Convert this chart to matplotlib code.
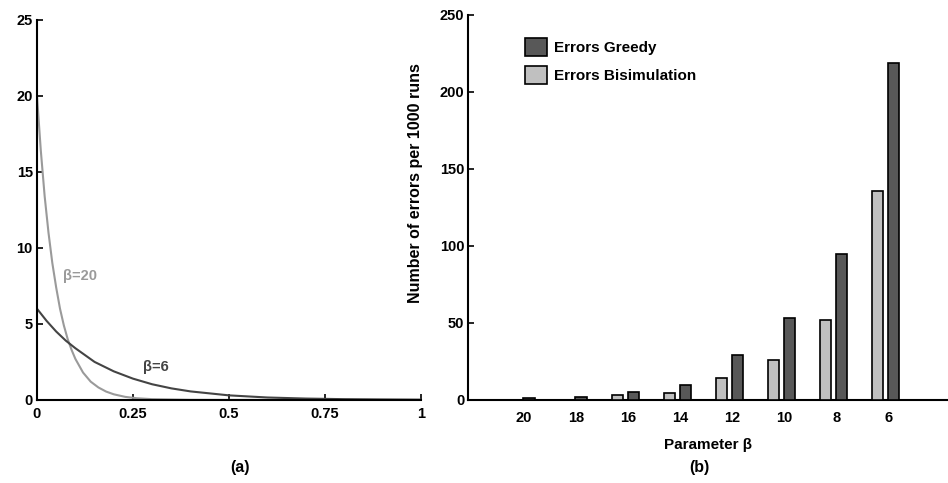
import matplotlib.pyplot as plt
import numpy as np

plt.rcParams["font.family"] = ["Liberation Sans", "DejaVu Sans"]
plt.rcParams["font.weight"] = "bold"

# (a) densities
x_b20 = [0, 0.01, 0.02, 0.03, 0.04, 0.05, 0.06, 0.07, 0.08, 0.09, 0.10, 0.12,
         0.14, 0.16, 0.18, 0.20, 0.23, 0.26, 0.30, 0.40, 0.50, 1.0]
y_b20 = [20, 16.4, 13.4, 11.0, 9.0, 7.4, 6.0, 4.9, 4.0, 3.3, 2.7, 1.8,
         1.2, 0.82, 0.55, 0.37, 0.20, 0.11, 0.05, 0.007, 0.001, 0.0]
x_b6 = [0, 0.025, 0.05, 0.075, 0.1, 0.125, 0.15, 0.2, 0.25, 0.3, 0.35, 0.4,
        0.5, 0.6, 0.7, 0.8, 0.9, 1.0]
y_b6 = [6.0, 5.2, 4.5, 3.9, 3.4, 2.95, 2.5, 1.88, 1.40, 1.03, 0.76, 0.56,
        0.30, 0.16, 0.09, 0.05, 0.03, 0.015]

# (b) errors per 1000 runs
betas = ["20", "18", "16", "14", "12", "10", "8", "6"]
err_bisim = [0, 0, 3.5, 4.3, 14.5, 26, 52, 136]
err_greedy = [1.5, 2, 5, 10, 29, 53, 95, 219]

fig = plt.figure(figsize=(9.48, 4.83), dpi=100)
ax1 = fig.add_axes([0.039, 0.172, 0.405, 0.787])
ax2 = fig.add_axes([0.494, 0.172, 0.506, 0.797])

for ax in (ax1, ax2):
    ax.spines["top"].set_visible(False)
    ax.spines["right"].set_visible(False)
    ax.spines["left"].set_linewidth(1.5)
    ax.spines["bottom"].set_linewidth(1.5)
    ax.tick_params(direction="in", length=4, width=1.2, labelsize=10.5, pad=3)

# left panel
ax1.plot(x_b20, y_b20, color="#9a9a9a", lw=1.5)
ax1.plot(x_b6, y_b6, color="#444444", lw=1.5)
ax1.set_xlim(0, 1)
ax1.set_ylim(0, 25)
ax1.set_xticks([0, 0.25, 0.5, 0.75, 1])
ax1.set_xticklabels(["0", "0.25", "0.5", "0.75", "1"], fontweight="bold")
ax1.set_yticks([0, 5, 10, 15, 20, 25])
ax1.set_yticklabels(["0", "5", "10", "15", "20", "25"], fontweight="bold")
ax1.tick_params(axis="x", pad=5)
ax1.text(0.068, 7.9, "β=20", color="#9a9a9a", fontsize=10.5, fontweight="bold")
ax1.text(0.275, 1.9, "β=6", color="#444444", fontsize=10.5, fontweight="bold")
fig.text(0.253, 0.022, "(a)", ha="center", fontsize=11.5, fontweight="bold")

# right panel
pos = np.arange(len(betas))
ax2.bar(pos - 0.15, err_bisim, width=0.22, color="#c0c0c0", edgecolor="black",
        lw=1.2, label="Errors Bisimulation", zorder=3)
ax2.bar(pos + 0.15, err_greedy, width=0.22, color="#585858", edgecolor="black",
        lw=1.2, label="Errors Greedy", zorder=3)
ax2.set_xlim(-1.02, 8.2)
ax2.set_ylim(0, 250)
ax2.set_xticks(pos + 0.05)
ax2.set_xticklabels(betas, fontweight="bold")
ax2.tick_params(axis="x", length=0, pad=8)
ax2.set_yticks([0, 50, 100, 150, 200, 250])
ax2.set_yticklabels(["0", "50", "100", "150", "200", "250"], fontweight="bold")
ax2.set_xlabel("Parameter β", fontsize=11, fontweight="bold", labelpad=9)
ax2.set_ylabel("Number of errors per 1000 runs", fontsize=11.5, fontweight="bold")
ax2.yaxis.set_label_coords(-0.094, 0.564)
handles, labels = ax2.get_legend_handles_labels()
ax2.legend(handles[::-1], labels[::-1], loc="upper left", bbox_to_anchor=(0.09, 0.975),
           frameon=False, handlelength=1.4, handleheight=1.4, handletextpad=0.5,
           labelspacing=0.65, prop={"weight": "bold", "size": 11})
fig.text(0.738, 0.022, "(b)", ha="center", fontsize=11.5, fontweight="bold")

fig.savefig("out.png", dpi=100)
